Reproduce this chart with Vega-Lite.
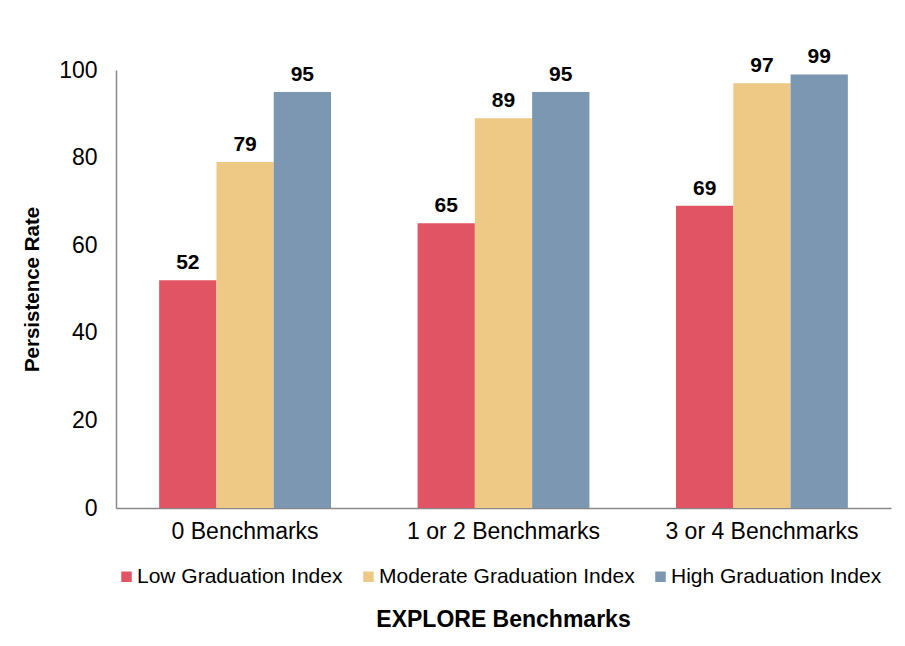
{
  "$schema": "https://vega.github.io/schema/vega-lite/v6.json",
  "autosize": {"type": "none"},
  "padding": {"left": 116, "top": 70, "right": 14, "bottom": 138},
  "width": 775,
  "height": 438,
  "background": "white",
  "title": {
    "text": "EXPLORE Benchmarks",
    "orient": "bottom",
    "anchor": "middle",
    "font": "Liberation Sans",
    "fontSize": 23,
    "fontWeight": "bold",
    "color": "black",
    "offset": 22
  },
  "data": {
    "values": [
      {"group": "0 Benchmarks", "series": "Low Graduation Index", "value": 52},
      {"group": "0 Benchmarks", "series": "Moderate Graduation Index", "value": 79},
      {"group": "0 Benchmarks", "series": "High Graduation Index", "value": 95},
      {"group": "1 or 2 Benchmarks", "series": "Low Graduation Index", "value": 65},
      {"group": "1 or 2 Benchmarks", "series": "Moderate Graduation Index", "value": 89},
      {"group": "1 or 2 Benchmarks", "series": "High Graduation Index", "value": 95},
      {"group": "3 or 4 Benchmarks", "series": "Low Graduation Index", "value": 69},
      {"group": "3 or 4 Benchmarks", "series": "Moderate Graduation Index", "value": 97},
      {"group": "3 or 4 Benchmarks", "series": "High Graduation Index", "value": 99}
    ]
  },
  "encoding": {
    "x": {
      "field": "group",
      "type": "nominal",
      "sort": null,
      "scale": {"paddingInner": 0.335, "paddingOuter": 0.167},
      "axis": {
        "title": null,
        "labelAngle": 0,
        "ticks": false,
        "domainColor": "#888888",
        "domainWidth": 1.5,
        "labelFont": "Liberation Sans",
        "labelFontSize": 23,
        "labelColor": "black",
        "labelPadding": 12,
        "labelLimit": 400
      }
    },
    "xOffset": {
      "field": "series",
      "type": "nominal",
      "sort": ["Low Graduation Index", "Moderate Graduation Index", "High Graduation Index"],
      "scale": {"paddingInner": 0, "paddingOuter": 0}
    },
    "y": {
      "field": "value",
      "type": "quantitative",
      "scale": {"domain": [0, 100], "nice": false},
      "axis": {
        "title": "Persistence Rate",
        "titleFont": "Liberation Sans",
        "titleFontSize": 20.5,
        "titleFontWeight": "bold",
        "titleColor": "black",
        "titlePadding": 16,
        "values": [0, 20, 40, 60, 80, 100],
        "grid": false,
        "ticks": false,
        "domainColor": "#888888",
        "domainWidth": 1.5,
        "labelFont": "Liberation Sans",
        "labelFontSize": 23,
        "labelColor": "black",
        "labelPadding": 19
      }
    }
  },
  "layer": [
    {
      "mark": {"type": "bar"},
      "encoding": {
        "color": {
          "field": "series",
          "type": "nominal",
          "sort": ["Low Graduation Index", "Moderate Graduation Index", "High Graduation Index"],
          "scale": {
            "domain": ["Low Graduation Index", "Moderate Graduation Index", "High Graduation Index"],
            "range": ["#E15464", "#EDC985", "#7B97B2"]
          },
          "legend": {
            "title": null,
            "orient": "bottom",
            "direction": "horizontal",
            "symbolType": "square",
            "symbolSize": 110,
            "symbolStrokeWidth": 0,
            "symbolOpacity": 1,
            "labelFont": "Liberation Sans",
            "labelFontSize": 21,
            "labelColor": "black",
            "labelOffset": 0,
            "columnPadding": 15,
            "labelLimit": 400,
            "offset": 23
          }
        }
      }
    },
    {
      "mark": {
        "type": "text",
        "dy": -11,
        "baseline": "alphabetic",
        "font": "Liberation Sans",
        "fontSize": 21,
        "fontWeight": "bold",
        "color": "black"
      },
      "encoding": {
        "text": {"field": "value", "type": "quantitative"}
      }
    }
  ],
  "config": {
    "view": {"stroke": null}
  }
}
